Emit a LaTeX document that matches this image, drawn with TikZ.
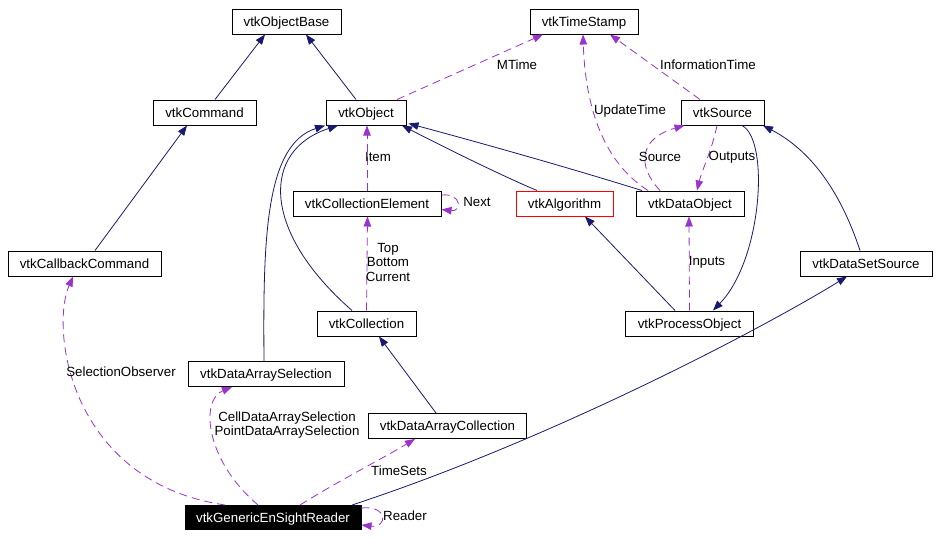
\documentclass[tikz,border=0pt]{standalone}
\usepackage{fontspec}
\setmainfont{Liberation Sans}
\usetikzlibrary{arrows.meta}
\definecolor{navy}{HTML}{191970}
\definecolor{dpurple}{HTML}{9A32CD}
\begin{document}
\begin{tikzpicture}[x=1pt,y=-1pt,
  box/.style={draw=black,line width=1pt,rectangle,inner sep=0pt,minimum height=25pt,text height=11pt,text depth=1.6pt,font=\fontsize{13.3}{15}\selectfont},
  lbl/.style={inner sep=0pt,font=\fontsize{13.3}{14.5}\selectfont,align=center},
  inh/.style={draw=navy,line width=0.8pt,-{Triangle[length=10pt,width=7.5pt]}},
  use/.style={draw=dpurple,line width=0.8pt,dash pattern=on 8pt off 5pt,-{Triangle[length=10pt,width=7.5pt]}}]
\useasboundingbox (0,0) rectangle (938,538);
\fill[white] (0,0) rectangle (938,538);
% nodes
\node[box,minimum width=109pt] (ob) at (286.5,21.5) {vtkObjectBase};
\node[box,minimum width=108pt] (ts) at (584,21.5) {vtkTimeStamp};
\node[box,minimum width=103pt] (cmd) at (204.5,112.5) {vtkCommand};
\node[box,minimum width=80pt] (obj) at (366,112.5) {vtkObject};
\node[box,minimum width=83pt] (src) at (722.5,112.5) {vtkSource};
\node[box,minimum width=148pt] (ce) at (367,203.5) {vtkCollectionElement};
\node[box,draw=red,minimum width=97pt] (alg) at (564.5,203.5) {vtkAlgorithm};
\node[box,minimum width=108pt] (do) at (690,203.5) {vtkDataObject};
\node[box,minimum width=153pt] (cb) at (84.5,263.5) {vtkCallbackCommand};
\node[box,minimum width=132pt] (dss) at (866,263.5) {vtkDataSetSource};
\node[box,minimum width=99pt] (col) at (366.5,323.5) {vtkCollection};
\node[box,minimum width=128pt] (po) at (689.5,323.5) {vtkProcessObject};
\node[box,minimum width=156pt] (das) at (266,374) {vtkDataArraySelection};
\node[box,minimum width=158pt] (dac) at (447.5,426) {vtkDataArrayCollection};
\node[box,fill=black,text=white,minimum width=176pt,minimum height=24pt] (rdr) at (273,517.5) {vtkGenericEnSightReader};
% inheritance
\draw[inh] ([xshift=10.5pt]cmd.north) -- ([xshift=-21.5pt]ob.south);
\draw[inh] ([xshift=-10pt]obj.north) -- ([xshift=19.5pt]ob.south);
\draw[inh] ([xshift=10.5pt]cb.north) -- ([xshift=-17.5pt]cmd.south);
\draw[inh] ([xshift=-48pt]do.north) .. controls (560,165) and (470,140) .. ([xshift=2pt,yshift=2pt]obj.south east);
\draw[inh] ([xshift=-27.5pt]alg.north) .. controls (500,175) and (440,145) .. ([xshift=36pt]obj.south);
\draw[inh] ([xshift=-14.5pt]col.north) .. controls (260,230) and (262,150) .. ([xshift=-28pt]obj.south);
\draw[inh] ([xshift=-2pt]das.north) .. controls (263,240) and (265,145) .. ([xshift=-41pt]obj.south);
\draw[inh] ([xshift=-14.5pt]po.north) -- ([xshift=20.5pt]alg.south);
\draw[inh] ([xshift=19.5pt]src.south) .. controls (770,140) and (762,260) .. ([xshift=23.5pt]po.north);
\draw[inh] ([xshift=-6pt]dss.north) .. controls (840,190) and (810,150) .. ([xshift=40.5pt]src.south);
\draw[inh] ([xshift=-11.5pt]dac.north) -- ([xshift=12.5pt]col.south);
\draw[inh] ([xshift=79pt]rdr.north) .. controls (550,440) and (760,330) .. ([xshift=-19pt]dss.south);
% usage
\draw[use] ([xshift=31pt]obj.north) -- ([xshift=-41pt]ts.south);
\draw[use] ([xshift=-42pt]do.north) .. controls (600,160) and (585,100) .. ([xshift=-1pt]ts.south);
\draw[use] ([xshift=-22.5pt]src.north) -- ([xshift=26pt]ts.south);
\draw[use] ([xshift=-30pt]do.north) .. controls (636,165) and (640,138) .. ([xshift=-38pt]src.south);
\draw[use] ([xshift=-5.5pt]src.south) .. controls (712,150) and (702,170) .. ([xshift=7pt]do.north);
\draw[use] (ce.north) -- ([xshift=1pt]obj.south);
\draw[use] ([yshift=8.5pt]ce.east) .. controls (462,193) and (462,212) .. ([yshift=-6pt]ce.east);
\draw[use] (col.north) -- ([xshift=0.5pt]ce.south);
\draw[use] (po.north) -- ([xshift=-1pt]do.south);
\draw[use] ([xshift=-48pt]rdr.north) .. controls (70,482) and (50,330) .. ([xshift=-11.5pt]cb.south);
\draw[use] ([xshift=-15pt]rdr.north) .. controls (205,460) and (200,400) .. ([xshift=-34pt]das.south);
\draw[use] ([xshift=27pt]rdr.north) .. controls (340,480) and (380,460) .. ([xshift=-32.5pt]dac.south);
\draw[use] ([yshift=9.5pt]rdr.east) .. controls (388,505) and (388,528) .. ([yshift=-7.5pt]rdr.east);
% labels
\node[lbl] (lmt) at (517,65) {MTime};
\node[lbl] (lut) at (630,111) {UpdateTime};
\node[lbl] (lit) at (708,65) {InformationTime};
\node[lbl] (lsrc) at (660,157) {Source};
\node[lbl] (lout) at (732,157) {Outputs};
\node[lbl] (litem) at (378,157) {Item};
\node[lbl] (lnext) at (477,202) {Next};
\node[lbl] (ltbc) at (388,262) {Top\\Bottom\\Current};
\node[lbl] (linp) at (707,262) {Inputs};
\node[lbl] (lso) at (121,372) {SelectionObserver};
\node[lbl] (lcp) at (287,425) {CellDataArraySelection\\PointDataArraySelection};
\node[lbl] (lts) at (399,471) {TimeSets};
\node[lbl] (lrd) at (405,516) {Reader};
\end{tikzpicture}
\end{document}
